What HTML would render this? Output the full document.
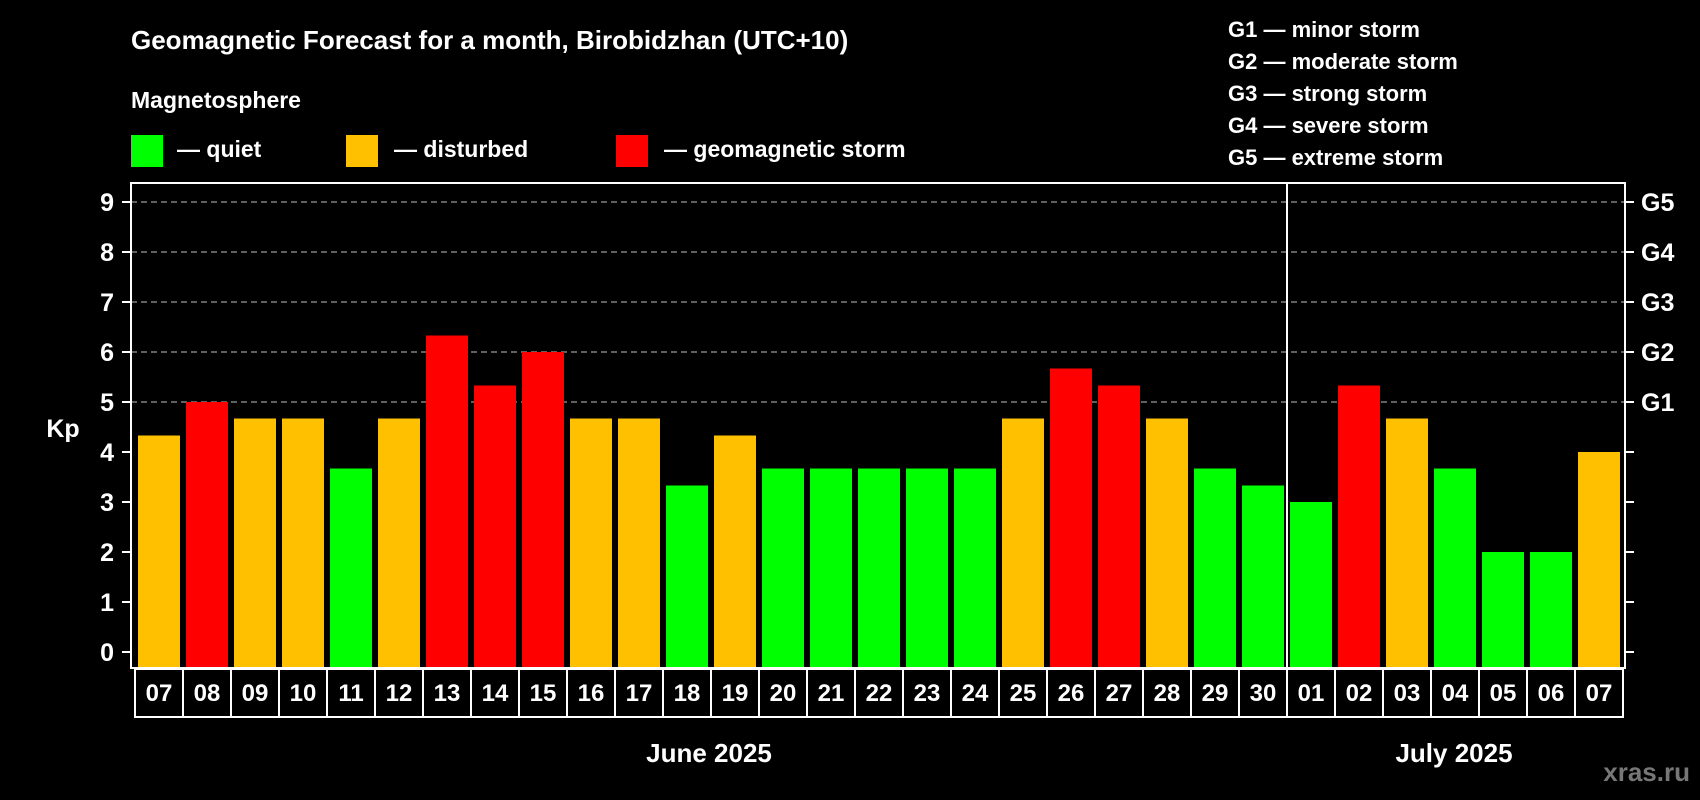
<!DOCTYPE html>
<html><head><meta charset="utf-8">
<style>
html,body{margin:0;padding:0;background:#000;}
svg{display:block;font-family:"Liberation Sans",Arial,sans-serif;font-weight:bold;}
</style></head>
<body>
<svg id="chart" width="1700" height="800" viewBox="0 0 1700 800" xmlns="http://www.w3.org/2000/svg">
<rect x="0" y="0" width="1700" height="800" fill="#000"/>
<text x="131" y="49" font-size="26" fill="#fff">Geomagnetic Forecast for a month, Birobidzhan (UTC+10)</text>
<text x="131" y="108" font-size="23" fill="#fff">Magnetosphere</text>
<g>
<rect x="131" y="135" width="32" height="32" fill="#00ff00"/>
<text x="177" y="157" font-size="23" fill="#fff">— quiet</text></g>
<g>
<rect x="346" y="135" width="32" height="32" fill="#ffc000"/>
<text x="394" y="157" font-size="23" fill="#fff">— disturbed</text></g>
<g>
<rect x="616" y="135" width="32" height="32" fill="#ff0000"/>
<text x="664" y="157" font-size="23" fill="#fff">— geomagnetic storm</text></g>
<g font-size="22" fill="#fff">
<text x="1228" y="37">G1 — minor storm</text>
<text x="1228" y="69">G2 — moderate storm</text>
<text x="1228" y="101">G3 — strong storm</text>
<text x="1228" y="133">G4 — severe storm</text>
<text x="1228" y="165">G5 — extreme storm</text>
</g>
<text x="63" y="437" font-size="25" fill="#fff" text-anchor="middle">Kp</text>
<g id="grid"></g>
<g id="bars"></g>
<g id="axes"></g>
<g id="dates"></g>
<text x="709" y="762" font-size="26" fill="#fff" text-anchor="middle">June 2025</text>
<text x="1454" y="762" font-size="26" fill="#fff" text-anchor="middle">July 2025</text>
<text x="1690" y="781" font-size="26" fill="#777" text-anchor="end">xras.ru</text>
</svg>
<script>
const days = ["07","08","09","10","11","12","13","14","15","16","17","18","19","20","21","22","23","24","25","26","27","28","29","30","01","02","03","04","05","06","07"];
const kpValues = [4.33,5,4.67,4.67,3.67,4.67,6.33,5.33,6,4.67,4.67,3.33,4.33,3.67,3.67,3.67,3.67,3.67,4.67,5.67,5.33,4.67,3.67,3.33,3,5.33,4.67,3.67,2,2,4];
const yTicks = [0,1,2,3,4,5,6,7,8,9];
const gLabels = ["","","","","","G1","G2","G3","G4","G5"];
const monthBreakIndex = 24;

const NS="http://www.w3.org/2000/svg";
const plotL=131, plotR=1625, plotT=183, plotB=668;
const y0=652, unit=50, x0=138, pitch=48, barW=42;
const yScale=v=>y0-v*unit;
const xScale=i=>x0+i*pitch;
function mk(tag,attrs,parent){const e=document.createElementNS(NS,tag);for(const k in attrs)e.setAttribute(k,attrs[k]);parent.appendChild(e);return e;}
const grid=document.getElementById('grid'),bars=document.getElementById('bars'),axes=document.getElementById('axes'),dates=document.getElementById('dates');

yTicks.forEach(t=>{
  if(t>=5){
    const gl=mk('line',{x1:plotL,x2:plotR,y1:yScale(t),y2:yScale(t),stroke:'#999','stroke-width':1.3,'stroke-dasharray':'6 4'},grid);
    
    
  }
});
kpValues.forEach((v,i)=>{
  const c=v<4?'#00ff00':(v<5?'#ffc000':'#ff0000');
  const r=mk('rect',{x:xScale(i),y:yScale(v),width:barW,height:plotB-yScale(v),fill:c},bars);
  
  
});
const fr=mk('rect',{x:plotL,y:plotT,width:plotR-plotL,height:plotB-plotT,fill:'none',stroke:'#fff','stroke-width':2},axes);


const sx=xScale(monthBreakIndex)-3;
const sep=mk('line',{x1:sx,x2:sx,y1:plotT,y2:plotB,stroke:'#fff','stroke-width':2},axes);


yTicks.forEach((t,k)=>{
  const y=yScale(t);
  mk('line',{x1:plotL-9,x2:plotL,y1:y,y2:y,stroke:'#fff','stroke-width':2},axes);
  mk('line',{x1:plotR,x2:plotR+9,y1:y,y2:y,stroke:'#fff','stroke-width':2},axes);
  const lt=mk('text',{x:114,y:y+9,'font-size':25,fill:'#fff','text-anchor':'end'},axes);
  lt.textContent=t;
  
  
  if(gLabels[k]){
    const gt=mk('text',{x:1641,y:y+9,'font-size':25,fill:'#fff'},axes);
    gt.textContent=gLabels[k];
    
    
  }
});
days.forEach((d,i)=>{
  const cx=xScale(i)+barW/2;
  const b=mk('rect',{x:cx-24,y:669,width:48,height:48,fill:'#000',stroke:'#fff','stroke-width':2},dates);
  
  
  const t=mk('text',{x:cx,y:701,'font-size':24,fill:'#fff','text-anchor':'middle'},dates);
  t.textContent=d;
  
  
});
</script>
</body></html>
